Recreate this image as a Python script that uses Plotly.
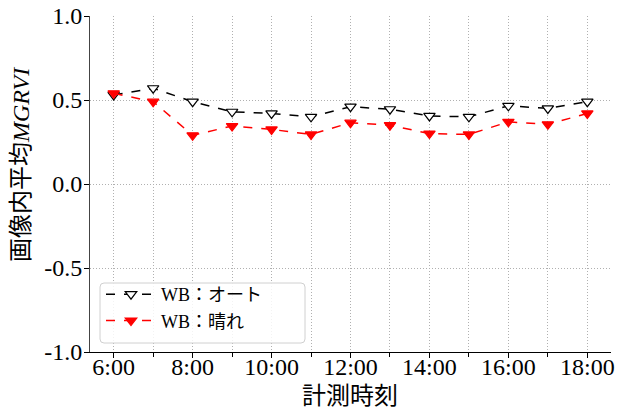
import plotly.graph_objects as go

hours = [6, 7, 8, 9, 10, 11, 12, 13, 14, 15, 16, 17, 18]
auto_vals = [0.53, 0.57, 0.49, 0.43, 0.42, 0.40, 0.46, 0.445, 0.405, 0.40, 0.465, 0.45, 0.49]
hare_vals = [0.54, 0.49, 0.29, 0.345, 0.325, 0.295, 0.365, 0.35, 0.30, 0.295, 0.37, 0.355, 0.42]
xtick_vals = [6, 8, 10, 12, 14, 16, 18]
xtick_text = ["6:00", "8:00", "10:00", "12:00", "14:00", "16:00", "18:00"]
ytick_vals = [-1.0, -0.5, 0.0, 0.5, 1.0]
ytick_text = ["-1.0", "-0.5", "0.0", "0.5", "1.0"]

FONT = "Liberation Serif, Times New Roman, Noto Sans CJK JP, serif"
GRID = "#b0b0b0"
DOT = "1px,2px"

W, H = 628, 414
ML, MR, MT, MB = 90, 17, 16, 62
PW, PH = W - ML - MR, H - MT - MB


def px_x(p):
    return (p - ML) / PW


def px_y(p):
    return (H - MB - p) / PH


fig = go.Figure()
fig.add_trace(go.Scatter(
    x=hours, y=auto_vals, mode="lines+markers", name="WB：オート",
    line=dict(color="black", dash="dash", width=1.5),
    marker=dict(symbol="triangle-down", size=10, color="white",
                line=dict(color="black", width=1.2)),
))
fig.add_trace(go.Scatter(
    x=hours, y=hare_vals, mode="lines+markers", name="WB：晴れ",
    line=dict(color="red", dash="dash", width=1.5),
    marker=dict(symbol="triangle-down", size=10, color="red",
                line=dict(color="red", width=1.2)),
))

# rounded legend frame
x0, x1 = px_x(100), px_x(305)
y0, y1 = px_y(343), px_y(283)
rx, ry = 4 / PW, 4 / PH
path = (f"M {x0+rx},{y0} L {x1-rx},{y0} Q {x1},{y0} {x1},{y0+ry} "
        f"L {x1},{y1-ry} Q {x1},{y1} {x1-rx},{y1} L {x0+rx},{y1} "
        f"Q {x0},{y1} {x0},{y1-ry} L {x0},{y0+ry} Q {x0},{y0} {x0+rx},{y0} Z")
fig.add_shape(type="path", xref="paper", yref="paper", path=path,
              fillcolor="rgba(255,255,255,0.85)", line=dict(color="#d0d0d0", width=1),
              layer="above")

fig.add_annotation(
    text="画像内平均<i>MGRVI</i>", xref="paper", yref="paper",
    x=px_x(21), y=px_y(165), xanchor="center", yanchor="middle",
    textangle=-90, showarrow=False, font=dict(family=FONT, size=24, color="black"),
)
fig.add_annotation(
    text="計測時刻", xref="paper", yref="paper",
    x=px_x(350), y=px_y(396), xanchor="center", yanchor="middle",
    showarrow=False, font=dict(family=FONT, size=24, color="black"),
)

fig.update_layout(
    width=W, height=H,
    margin=dict(l=ML, r=MR, t=MT, b=MB, autoexpand=False),
    paper_bgcolor="white", plot_bgcolor="white",
    font=dict(family=FONT, size=24, color="black"),
    showlegend=True,
    legend=dict(
        x=px_x(101), y=px_y(339), xanchor="left", yanchor="bottom",
        bgcolor="rgba(0,0,0,0)", borderwidth=0,
        font=dict(family=FONT, size=18), tracegroupgap=0, itemwidth=50,
    ),
)
fig.update_xaxes(
    range=[5.4, 18.6], automargin=False,
    tickmode="array", tickvals=xtick_vals, ticktext=xtick_text,
    ticks="outside", ticklen=5, tickcolor="black", ticklabelstandoff=-12,
    showline=True, linecolor="black", linewidth=1,
    showgrid=True, gridcolor=GRID, griddash=DOT, gridwidth=1,
    minor=dict(dtick=1, tick0=6, ticks="outside", ticklen=4, tickcolor="black",
               showgrid=True, gridcolor=GRID, griddash=DOT, gridwidth=1),
    zeroline=False,
    tickfont=dict(family=FONT, size=24),
)
fig.update_yaxes(
    range=[-1.0, 1.0], automargin=False,
    tickmode="array", tickvals=ytick_vals, ticktext=ytick_text,
    ticks="outside", ticklen=5, tickcolor="black", ticklabelstandoff=-3,
    showline=True, linecolor="#444444", linewidth=1,
    showgrid=True, gridcolor=GRID, griddash=DOT, gridwidth=1,
    zeroline=False,
    tickfont=dict(family=FONT, size=24),
)

fig.write_html("out.html")
